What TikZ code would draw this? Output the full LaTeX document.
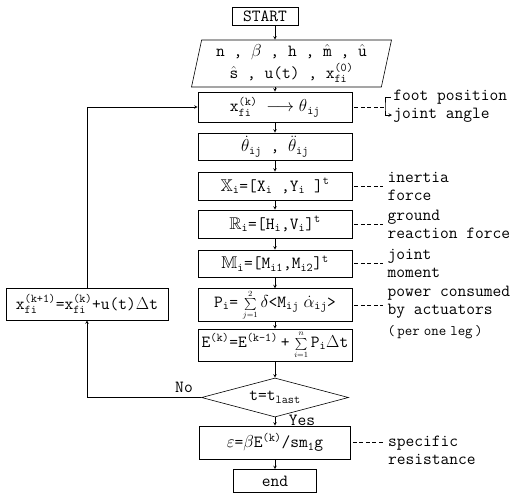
\documentclass[tikz,border=0pt]{standalone}
\usepackage{amsmath,amssymb}
\usetikzlibrary{shapes.geometric,positioning}
\newcommand{\subs}[1]{$_{\text{#1}}$}
\newcommand{\sups}[1]{$^{\text{#1}}$}
\newcommand{\xfi}[1]{x$_{\text{fi}}^{\text{(#1)}}$}
\begin{document}
\begin{tikzpicture}[x=1pt,y=-1pt,>=stealth,line width=0.6pt,
		font=\ttfamily\fontsize{17}{18}\selectfont,
		box/.style={draw,rectangle,inner sep=1pt,minimum width=154pt,minimum height=28pt},
		note/.style={inner sep=1pt,align=left,anchor=west},
		dashline/.style={dash pattern=on 4pt off 2.5pt,shorten <=2pt,shorten >=3pt}]
	\useasboundingbox (0,0) rectangle (528,493);
	% main column
	\node[draw,minimum width=66pt,minimum height=18pt,inner sep=1pt] (start) at (265,16) {START};
	\node[draw,trapezium,trapezium left angle=76,trapezium right angle=104,trapezium stretches body,
		minimum width=200pt,minimum height=47pt,inner sep=1pt,align=center] (inp) at (291.5,63.5)
		{n , $\beta$ , h , $\hat{\text{m}}$ , $\hat{\text{u}}$\\[3pt] $\hat{\text{s}}$ , u(t) , \xfi{0}};
	\node[box,minimum height=30pt] (b1) at (275,107) {\xfi{k} $\longrightarrow\theta$\subs{ij}};
	\node[box,minimum height=27pt] (b2) at (275,146.5) {$\dot{\theta}_{\text{ij}}$ , $\ddot{\theta}_{\text{ij}}$};
	\node[box] (b3) at (275,186) {$\mathbb{X}_{\text{i}}$=[X\subs{i} ,Y\subs{i} ]\sups{t}};
	\node[box] (b4) at (275,224) {$\mathbb{R}_{\text{i}}$=[H\subs{i},V\subs{i}]\sups{t}};
	\node[box,minimum height=27pt] (b5) at (275,263.5) {$\mathbb{M}_{\text{i}}$=[M\subs{i1},M\subs{i2}]\sups{t}};
	\node[box,minimum height=30pt] (b6) at (275,305) {P\subs{i}=\;$\scriptstyle\sum\limits_{j=1}^{2}$\,$\delta$<M\subs{ij}\;$\dot{\alpha}_{\text{ij}}$>};
	\node[box,minimum height=32pt] (b7) at (275,345) {E\sups{(k)}=E\sups{(k-1)}\,+\;$\scriptstyle\sum\limits_{i=1}^{n}$\,P\subs{i}$\Delta$t};
	\node[draw,diamond,aspect=3.8,inner sep=1pt,minimum width=147pt,minimum height=39pt] (dec) at (275,397.5) {t=t\subs{last}};
	\node[box,minimum width=151pt,minimum height=33pt] (b8) at (275,442.5) {$\varepsilon$=$\beta$E\sups{(k)}/sm\subs{1}g};
	\node[draw,minimum width=83pt,minimum height=23pt,inner sep=1pt] (end) at (275,481) {end};
	\node[box,minimum width=162pt,minimum height=32pt] (upd) at (87,304) {\xfi{k+1}=\xfi{k}+u(t)$\Delta$t};
	% flow
	\draw[->] (start.south -| b1) -- (inp.north -| b1);
	\draw[->] (inp.south -| b1) -- (b1);
	\foreach \a/\b in {b1/b2,b2/b3,b3/b4,b4/b5,b5/b6,b6/b7,b7/dec,dec/b8,b8/end}
		\draw[->] (\a) -- (\b);
	\draw[->] (dec.west) -| (upd.south);
	\draw[->] (upd.north) |- (b1.west);
	\node[inner sep=1pt] (no) at (184,387) {No};
	\node[inner sep=1pt] (yes) at (302,420) {Yes};
	% remarks
	\coordinate (brk) at (385,107);
	\node[note] (fp) at (392,97) {foot position};
	\node[note] (ja) at (392,115) {joint angle};
	\draw[dashline,shorten >=0pt] (b1) -- (brk);
	\draw[->] ([xshift=-1pt]fp.west) -| (brk) |- (ja.west);
	\node[note,right=34pt of b3.east] (n3) {inertia\\force};
	\node[note,right=34pt of b4.east] (n4) {ground\\reaction force};
	\node[note,right=34pt of b5.east] (n5) {joint\\moment};
	\node[note,right=34pt of b6.east,yshift=3pt] (n6) {power consumed\\by actuators};
	\node[note,anchor=north west,font=\ttfamily\fontsize{14.5}{15}\selectfont] (leg) at ([yshift=-5pt]n6.south west) {(\,per\hspace{4pt}one\hspace{4pt}leg\,)};
	\node[note] (n8) at ([xshift=36pt,yshift=-8pt]b8.east) {specific\\resistance};
	\foreach \b/\n in {b3/n3,b4/n4,b5/n5}
		\draw[dashline] (\b) -- (\n);
	\draw[dashline] (b6.east) -- (b6.east -| n6.west);
	\draw[dashline] (b8.east) -- (b8.east -| n8.west);
\end{tikzpicture}
\end{document}
